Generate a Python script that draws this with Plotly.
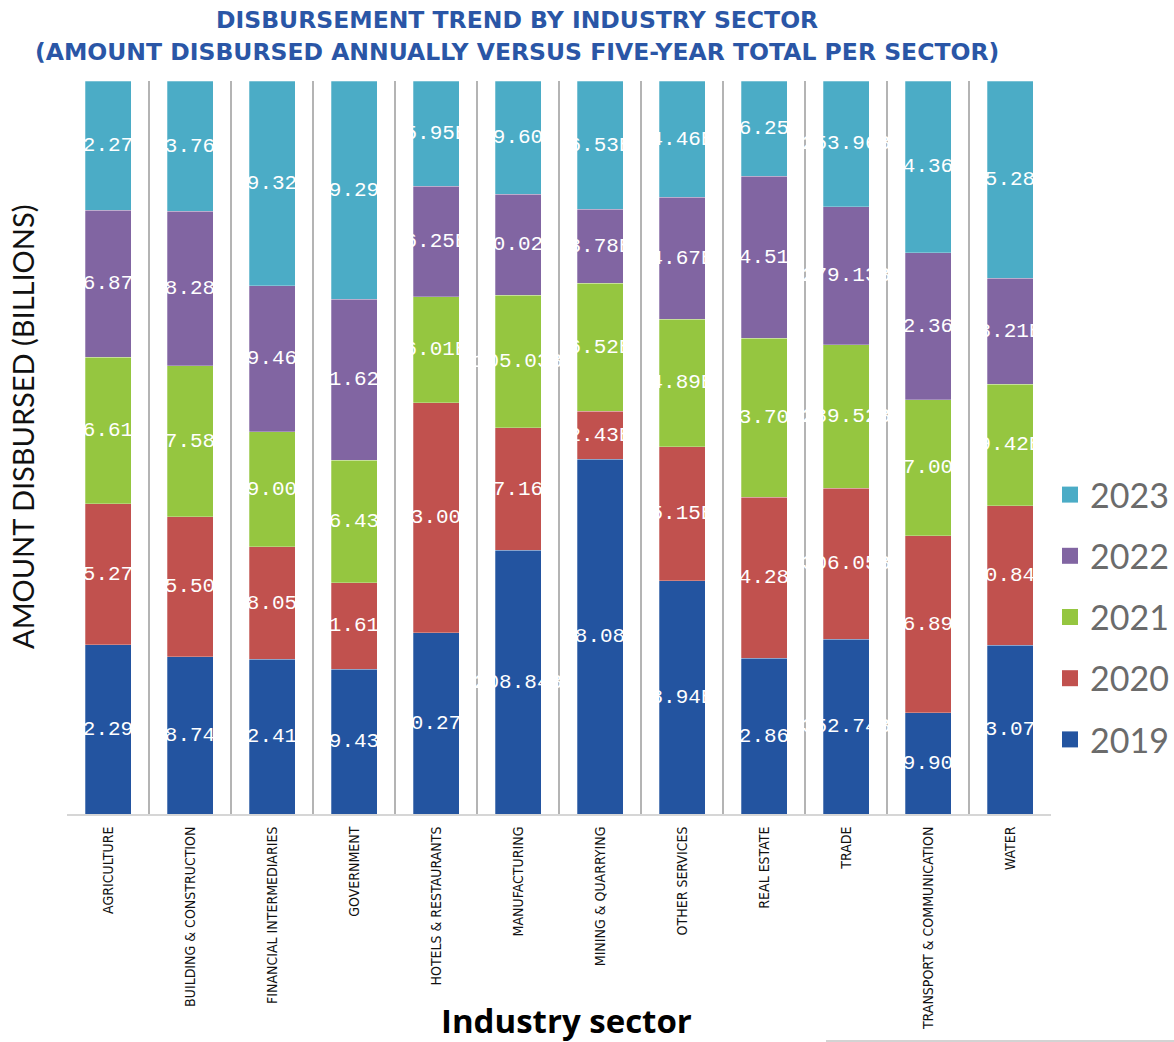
import plotly.graph_objects as go

# Sectors along the x axis
SECTORS = [
    "AGRICULTURE", "BUILDING & CONSTRUCTION", "FINANCIAL INTERMEDIARIES",
    "GOVERNMENT", "HOTELS & RESTAURANTS", "MANUFACTURING",
    "MINING & QUARRYING", "OTHER SERVICES", "REAL ESTATE", "TRADE",
    "TRANSPORT & COMMUNICATION", "WATER",
]

YEARS = ["2019", "2020", "2021", "2022", "2023"]

# Amount disbursed per sector and year (billions)
V2019 = [42.29, 28.74, 52.41, 19.43, 10.27, 208.84, 18.08, 8.94, 42.86, 352.74, 49.90, 13.07]
V2020 = [35.27, 25.50, 38.05, 11.61, 13.00, 97.16, 2.43, 5.15, 44.28, 306.05, 86.89, 10.84]
V2021 = [36.61, 27.58, 39.00, 16.43, 6.01, 105.03, 6.52, 4.89, 43.70, 289.52, 67.00, 9.42]
V2022 = [36.87, 28.28, 49.46, 21.62, 6.25, 80.02, 3.78, 4.67, 44.51, 279.13, 72.36, 8.21]
V2023 = [32.27, 23.76, 69.32, 29.29, 5.95, 89.60, 6.53, 4.46, 26.25, 253.96, 84.36, 15.28]

SERIES = [V2019, V2020, V2021, V2022, V2023]
COLORS = ["#2354A0", "#C1514E", "#95C640", "#8165A2", "#4BACC6"]

TITLE_LINES = [
    "DISBURSEMENT TREND BY INDUSTRY SECTOR",
    "(AMOUNT DISBURSED ANNUALLY VERSUS FIVE-YEAR TOTAL PER SECTOR)",
]
Y_TITLE = "AMOUNT DISBURSED (BILLIONS)"
X_TITLE = "Industry sector"

# Plot-area geometry in pixels
W, H = 1174, 1042
L, R, T, B = 67, 1051, 81, 814
PW, PH = R - L, B - T


def px(x, y):
    """Pixel position -> paper coordinates."""
    return (x - L) / PW, (B - y) / PH


fig = go.Figure()

# Stacked bars, normalised to each sector's five-year total
for year, vals, color in zip(YEARS, SERIES, COLORS):
    fig.add_trace(go.Bar(
        x=SECTORS,
        y=vals,
        name=year,
        marker=dict(color=color, line=dict(color="rgba(255,255,255,0.45)", width=0.6)),
        text=[f"{v:.2f}B" for v in vals],
        textposition="inside",
        insidetextanchor="middle",
        constraintext="none",
        textangle=0,
        textfont=dict(family="Liberation Mono, DejaVu Sans Mono, monospace", size=21, color="white"),
        showlegend=False,
        hoverinfo="x+y+name",
    ))

# Legend entries (newest year on top) with larger square swatches
for year, color in reversed(list(zip(YEARS, COLORS))):
    fig.add_trace(go.Scatter(
        x=[None], y=[None], mode="markers", name=year,
        legendgroup=year,
        marker=dict(symbol="square", size=16, color=color),
        hoverinfo="skip",
    ))

lx, ly = px(1050, 466)
fig.update_layout(
    width=W, height=H,
    margin=dict(l=L, r=W - R, t=T, b=H - B, autoexpand=False),
    barmode="stack",
    barnorm="percent",
    bargap=0.439,
    plot_bgcolor="white",
    paper_bgcolor="white",
    legend=dict(
        x=lx, y=ly, xanchor="left", yanchor="top",
        traceorder="grouped", tracegroupgap=14,
        font=dict(family="Lato, Open Sans, sans-serif", size=34, color="#6b6b6b"),
        itemwidth=30,
        bgcolor="rgba(0,0,0,0)",
    ),
    showlegend=True,
)

fig.update_xaxes(
    type="category",
    tickson="boundaries",
    showgrid=True, gridcolor="#b4b4b4", gridwidth=2,
    showline=True, linecolor="#d6d6d6", linewidth=2,
    ticks="", tickangle=-90, ticklabelstandoff=5,
    tickfont=dict(family="Liberation Sans Narrow, DejaVu Sans Condensed, sans-serif", size=14, color="#111111"),
    automargin=False,
)
fig.update_yaxes(
    range=[0, 100],
    showgrid=False, zeroline=False, showticklabels=False, showline=False,
    automargin=False,
)

# Title lines
title_font = dict(family="DejaVu Sans, sans-serif", size=23.5, color="#2A56A6", weight="bold")
for line, ypx in zip(TITLE_LINES, (20, 52)):
    tx, ty = px(517, ypx)
    fig.add_annotation(
        text=line, xref="paper", yref="paper", x=tx, y=ty,
        xanchor="center", yanchor="middle", showarrow=False, font=title_font,
    )

# Axis titles
ax_x, ax_y = px(22, 427)
fig.add_annotation(
    text=Y_TITLE, xref="paper", yref="paper", x=ax_x, y=ax_y,
    xanchor="center", yanchor="middle", textangle=-90, showarrow=False,
    font=dict(family="Lato, Open Sans, sans-serif", size=29, color="#111111"),
)
bx_x, bx_y = px(566, 1020)
fig.add_annotation(
    text=X_TITLE, xref="paper", yref="paper", x=bx_x, y=bx_y,
    xanchor="center", yanchor="middle", showarrow=False,
    font=dict(family="Open Sans, Lato, sans-serif", size=33, color="#000000", weight="bold"),
)

# Thin rule at the lower right
r0x, r0y = px(826, 1041)
r1x, _ = px(1174, 1041)
fig.add_shape(
    type="line", xref="paper", yref="paper",
    x0=r0x, x1=r1x, y0=r0y, y1=r0y,
    line=dict(color="#c4c4c4", width=1.5),
)

fig.write_html("out.html")
